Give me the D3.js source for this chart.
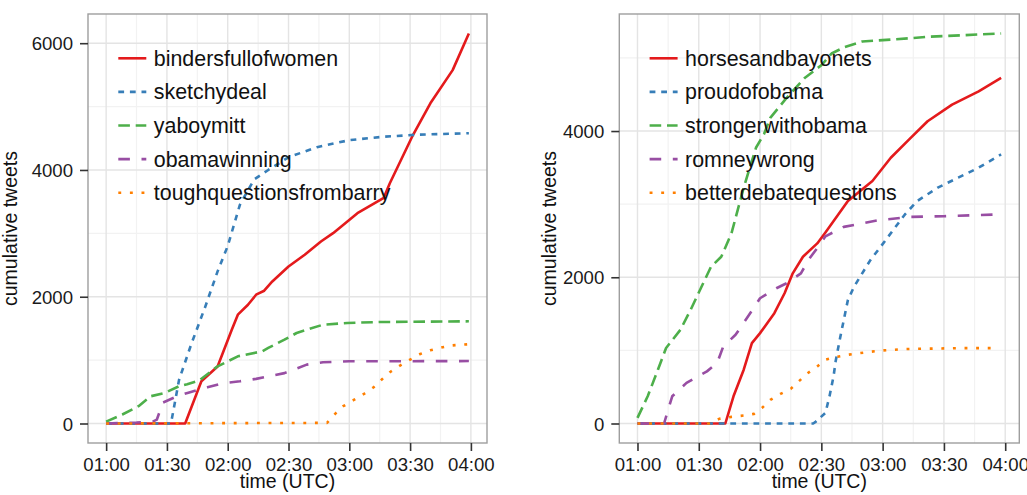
<!DOCTYPE html>
<html>
<head>
<meta charset="utf-8">
<script src="https://cdn.jsdelivr.net/npm/d3@7"></script>
<style>
  body { margin: 0; background: #fff; }
  svg { display: block; }
  text { font-family: "Liberation Sans", Arial, sans-serif; }
</style>
</head>
<body>
<svg id="chart" width="1027" height="495"></svg>
<script>
// ---- data: cumulative tweet counts per hashtag, [time (UTC), count] ----
const bindersfullofwomen = [
  ["01:00",0],["01:39",0],["01:47",666],["01:55",900],["02:02",1480],["02:05",1717],
  ["02:10",1874],["02:14",2032],["02:18",2095],["02:22",2241],["02:30",2478],["02:38",2662],
  ["02:46",2871],["02:52",3003],["03:04",3318],["03:17",3560],["03:20",3790],["03:31",4525],
  ["03:40",5051],["03:51",5575],["03:59",6153]
];
const sketchydeal = [
  ["01:00",0],["01:32",0],["01:36",690],["01:42",1250],["01:49",1850],["01:55",2400],
  ["02:00",2800],["02:06",3450],["02:13",3850],["02:20",4000],["02:30",4200],["02:44",4360],
  ["03:00",4470],["03:17",4525],["03:33",4555],["03:59",4580]
];
const yaboymitt = [
  ["01:00",30],["01:08",142],["01:16",273],["01:22",430],["01:29",483],["01:36",588],
  ["01:40",620],["01:46",680],["01:55",902],["02:05",1060],["02:17",1139],["02:20",1192],
  ["02:28",1323],["02:34",1428],["02:47",1559],["02:59",1586],["03:15",1601],["03:59",1612]
];
const obamawinning = [
  ["01:00",0],["01:15",15],["01:23",30],["01:25",60],["01:28",330],["01:35",430],
  ["01:41",490],["01:50",570],["01:57",630],["02:06",666],["02:14",704],["02:28",795],
  ["02:39",929],["02:47",966],["03:00",981],["03:59",985]
];
const toughquestionsfrombarry = [
  ["01:00",0],["02:49",10],["02:53",152],["02:57",273],["03:02",367],["03:07",462],
  ["03:12",572],["03:16",693],["03:20",808],["03:25",914],["03:30",1008],["03:35",1097],
  ["03:40",1155],["03:46",1202],["03:51",1233],["03:59",1250]
];

const horsesandbayonets = [
  ["01:00",0],["01:43",0],["01:47",372],["01:52",736],["01:56",1100],["02:00",1236],
  ["02:07",1509],["02:12",1781],["02:16",2054],["02:21",2281],["02:28",2463],["02:32",2613],
  ["02:43",3044],["02:55",3316],["03:04",3635],["03:13",3885],["03:22",4134],["03:34",4362],
  ["03:47",4543],["03:58",4726]
];
const proudofobama = [
  ["01:00",0],["02:26",0],["02:27",18],["02:32",145],["02:34",372],["02:36",650],
  ["02:37",850],["02:39",1145],["02:41",1418],["02:43",1690],["02:46",1871],["02:50",2054],
  ["02:54",2235],["02:59",2416],["03:05",2640],["03:11",2862],["03:17",3044],["03:27",3226],
  ["03:37",3362],["03:47",3499],["03:58",3680]
];
const strongerwithobama = [
  ["01:00",77],["01:05",372],["01:10",736],["01:14",1032],["01:21",1281],["01:26",1554],
  ["01:31",1850],["01:36",2144],["01:41",2280],["01:46",2600],["01:52",3226],["01:58",3771],
  ["02:02",3962],["02:05",4180],["02:13",4453],["02:22",4730],["02:30",4900],["02:35",5060],
  ["02:41",5143],["02:50",5224],["03:14",5270],["03:22",5289],["03:58",5334]
];
const romneywrong = [
  ["01:00",0],["01:13",0],["01:17",372],["01:24",555],["01:34",713],["01:39",827],
  ["01:42",1054],["01:48",1213],["01:53",1418],["02:00",1713],["02:08",1850],["02:13",1918],
  ["02:20",2054],["02:24",2250],["02:28",2400],["02:32",2560],["02:41",2689],["02:58",2781],
  ["03:14",2826],["03:30",2835],["03:55",2858]
];
const betterdebatequestions = [
  ["01:00",0],["01:35",0],["01:40",64],["01:46",91],["01:52",109],["01:57",132],
  ["02:01",214],["02:05",323],["02:10",405],["02:15",473],["02:19",577],["02:23",682],
  ["02:28",781],["02:32",872],["02:37",909],["02:43",940],["02:49",963],["02:54",981],
  ["03:00",999],["03:06",1009],["03:11",1018],["03:17",1022],["03:28",1026],["03:40",1031],
  ["03:57",1031]
];

const leftNames  = ["bindersfullofwomen","sketchydeal","yaboymitt","obamawinning","toughquestionsfrombarry"];
const leftData   = [bindersfullofwomen, sketchydeal, yaboymitt, obamawinning, toughquestionsfrombarry];
const rightNames = ["horsesandbayonets","proudofobama","strongerwithobama","romneywrong","betterdebatequestions"];
const rightData  = [horsesandbayonets, proudofobama, strongerwithobama, romneywrong, betterdebatequestions];

const timeTicks   = ["01:00","01:30","02:00","02:30","03:00","03:30","04:00"];
const timeMinor   = ["01:15","01:45","02:15","02:45","03:15","03:45"];
const yTicksLeft  = [0, 2000, 4000, 6000];
const yTicksRight = [0, 2000, 4000];
const yMinorLeft  = [1000, 3000, 5000];
const yMinorRight = [1000, 3000, 5000];

// ---- styling ----
const colors = ["#E41A1C", "#377EB8", "#4DAF4A", "#984EA3", "#FF7F00"];
const unit = 2.9;
const dashes = [null, [2,2], [4,2], [4,4], [1,3]].map(p => p ? p.map(v => v * unit).join(",") : null);
const lineWidth = 2.6;

const parseTime = d3.utcParse("%H:%M");
const fmtTime = d3.utcFormat("%H:%M");
const svg = d3.select("#chart");

function drawPanel(cfg) {
  const { x0, x1, y0, y1, names, data, yTicks, yMinor, yTitleX } = cfg;
  const series = data.map(arr => arr.map(([t, v]) => ({ t: parseTime(t), v })));
  const all = series.flat();

  // 5% expansion on both axes
  const tExt = d3.extent(all, d => +d.t);
  const tPad = (tExt[1] - tExt[0]) * 0.05;
  const vExt = d3.extent(all, d => d.v);
  const vPad = (vExt[1] - vExt[0]) * 0.05;

  const x = d3.scaleUtc().domain([new Date(tExt[0] - tPad), new Date(tExt[1] + tPad)]).range([x0, x1]);
  const y = d3.scaleLinear().domain([vExt[0] - vPad, vExt[1] + vPad]).range([y1, y0]);

  const g = svg.append("g");

  // minor grid
  g.selectAll(null).data(timeMinor.map(parseTime)).join("line")
    .attr("x1", d => x(d)).attr("x2", d => x(d)).attr("y1", y0).attr("y2", y1)
    .attr("stroke", "#f2f2f2").attr("stroke-width", 1.2);
  g.selectAll(null).data(yMinor).join("line")
    .attr("x1", x0).attr("x2", x1).attr("y1", d => y(d)).attr("y2", d => y(d))
    .attr("stroke", "#f2f2f2").attr("stroke-width", 1.2);
  // major grid
  g.selectAll(null).data(timeTicks.map(parseTime)).join("line")
    .attr("x1", d => x(d)).attr("x2", d => x(d)).attr("y1", y0).attr("y2", y1)
    .attr("stroke", "#e4e4e4").attr("stroke-width", 1.4);
  g.selectAll(null).data(yTicks).join("line")
    .attr("x1", x0).attr("x2", x1).attr("y1", d => y(d)).attr("y2", d => y(d))
    .attr("stroke", "#e4e4e4").attr("stroke-width", 1.4);

  // series lines
  const line = d3.line().x(d => x(d.t)).y(d => y(d.v));
  series.forEach((s, i) => {
    g.append("path").datum(s)
      .attr("d", line)
      .attr("fill", "none")
      .attr("stroke", colors[i])
      .attr("stroke-width", lineWidth)
      .attr("stroke-linejoin", "round")
      .attr("stroke-dasharray", dashes[i]);
  });

  // legend
  const lg = g.append("g").attr("transform", `translate(${x0 + 30.3},0)`);
  names.forEach((n, i) => {
    const cy = 58.3 + i * 33.6;
    lg.append("line").attr("x1", 0).attr("x2", 28).attr("y1", cy).attr("y2", cy)
      .attr("stroke", colors[i]).attr("stroke-width", lineWidth)
      .attr("stroke-dasharray", dashes[i]);
    lg.append("text").attr("x", 35.5).attr("y", cy + 7.5)
      .attr("font-size", 21.4).attr("fill", "#111").text(n);
  });

  // panel border
  g.append("rect").attr("x", x0).attr("y", y0).attr("width", x1 - x0).attr("height", y1 - y0)
    .attr("fill", "none").attr("stroke", "#9e9e9e").attr("stroke-width", 1.4);

  // axes
  const xAxis = d3.axisBottom(x).tickValues(timeTicks.map(parseTime)).tickFormat(fmtTime)
    .tickSize(8).tickPadding(6.5);
  const ax = g.append("g").attr("transform", `translate(0,${y1})`).call(xAxis);
  const yAxis = d3.axisLeft(y).tickValues(yTicks).tickFormat(d3.format("d"))
    .tickSize(8).tickPadding(7);
  const ay = g.append("g").attr("transform", `translate(${x0},0)`).call(yAxis);
  [ax, ay].forEach(a => {
    a.select(".domain").remove();
    a.selectAll(".tick line").attr("stroke", "#333").attr("stroke-width", 1.6);
    a.selectAll(".tick text").attr("font-size", 18.6).attr("fill", "#1a1a1a")
      .attr("font-family", "Liberation Sans, Arial, sans-serif");
  });
  ay.selectAll(".tick text").attr("dy", "0.36em");

  // axis titles
  g.append("text").attr("x", (x0 + x1) / 2).attr("y", 488)
    .attr("text-anchor", "middle").attr("font-size", 19.5).attr("fill", "#111")
    .text("time (UTC)");
  g.append("text").attr("transform", `translate(${yTitleX},${(y0 + y1) / 2}) rotate(-90)`)
    .attr("text-anchor", "middle").attr("font-size", 19.5).attr("fill", "#111")
    .text("cumulative tweets");
}

drawPanel({ x0: 88, x1: 487, y0: 14, y1: 443, names: leftNames, data: leftData,
  yTicks: yTicksLeft, yMinor: yMinorLeft, yTitleX: 16.5 });
drawPanel({ x0: 619.3, x1: 1019.3, y0: 14, y1: 443, names: rightNames, data: rightData,
  yTicks: yTicksRight, yMinor: yMinorRight, yTitleX: 555.5 });
</script>
</body>
</html>
